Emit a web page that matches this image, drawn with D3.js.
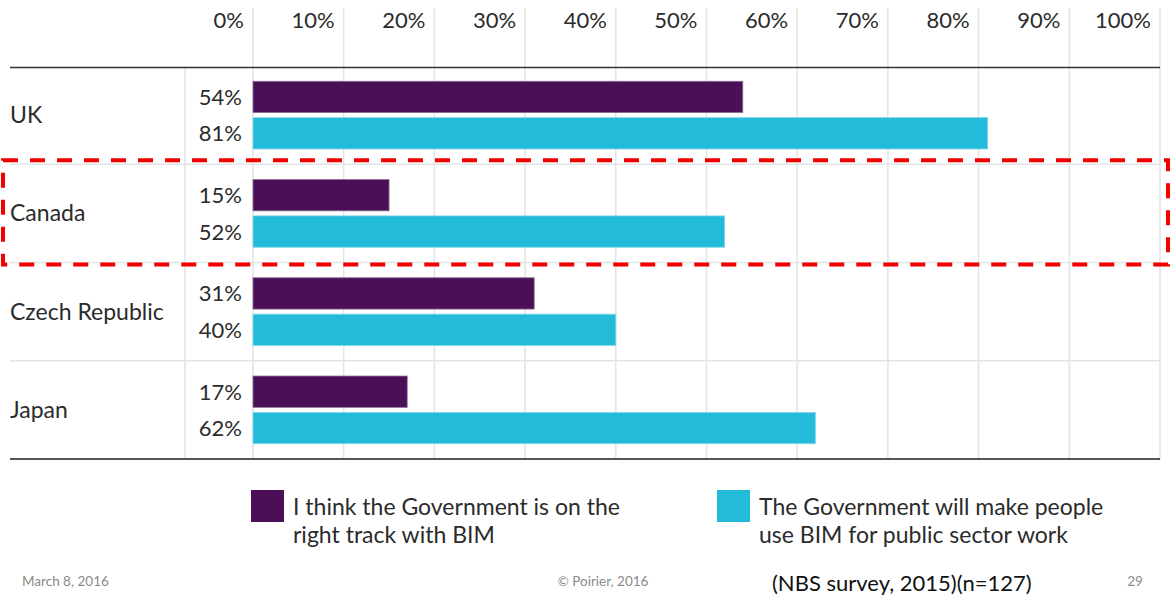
<!DOCTYPE html>
<html>
<head>
<meta charset="utf-8">
<script src="https://cdn.jsdelivr.net/npm/d3@7"></script>
<style>
  body { margin: 0; background: #fff; }
  svg { display: block; font-family: Lato, "Open Sans", sans-serif; }
</style>
</head>
<body>
<div id="chart"></div>
<script>
// data
const countries = ["UK", "Canada", "Czech Republic", "Japan"];
const series = ["onTrack", "willMake"];
const onTrack = [54, 15, 31, 17];
const willMake = [81, 52, 40, 62];
const ticks = [0, 10, 20, 30, 40, 50, 60, 70, 80, 90, 100];
const legendLabels = [
    ["I think the Government is on the", "right track with BIM"],
    ["The Government will make people", "use BIM for public sector work"]
];

const W = 1170, H = 598;
const colors = { onTrack: "#4a0f56", willMake: "#22bbd9" };

const svg = d3.select("#chart")
    .append("svg")
    .attr("width", W)
    .attr("height", H);

const x = d3.scaleLinear().domain([0, 100]).range([253, 1160]);
const y = d3.scaleBand().domain(countries).range([66, 459]);
const ySub = d3.scaleBand().domain(series)
    .range([0, y.bandwidth()])
    .paddingInner(0.14)
    .paddingOuter(0.42);

// vertical gridlines
svg.append("g")
    .selectAll("line")
    .data(ticks)
    .join("line")
    .attr("x1", d => x(d)).attr("x2", d => x(d))
    .attr("y1", 8).attr("y2", 459)
    .attr("stroke", "#e2e5e5")
    .attr("stroke-width", 1.5);

// tick labels on top
svg.append("g")
    .selectAll("text")
    .data(ticks)
    .join("text")
    .attr("x", d => x(d) - 9)
    .attr("y", 28)
    .attr("text-anchor", "end")
    .attr("font-size", 22)
    .attr("fill", "#2b2b2b")
    .text(d => d + "%");

// separator between names and values
svg.append("line")
    .attr("x1", 185).attr("x2", 185)
    .attr("y1", 68).attr("y2", 459)
    .attr("stroke", "#e2e5e5").attr("stroke-width", 1.5);

// row separators
svg.append("g")
    .selectAll("line")
    .data(countries.slice(1))
    .join("line")
    .attr("x1", 10).attr("x2", 1160)
    .attr("y1", d => y(d)).attr("y2", d => y(d))
    .attr("stroke", "#e2e5e5").attr("stroke-width", 1.5);

svg.append("line")
    .attr("x1", 10).attr("x2", 1160)
    .attr("y1", 67.5).attr("y2", 67.5)
    .attr("stroke", "#333").attr("stroke-width", 1.5);

svg.append("line")
    .attr("x1", 10).attr("x2", 1160)
    .attr("y1", 459).attr("y2", 459)
    .attr("stroke", "#555").attr("stroke-width", 2);

// bars
const rows = svg.append("g")
    .selectAll("g")
    .data(countries)
    .join("g")
    .attr("transform", d => `translate(0,${y(d)})`);

rows.append("text")
    .attr("x", 10)
    .attr("y", y.bandwidth() / 2 + 8)
    .attr("font-size", 23)
    .attr("fill", "#2b2b2b")
    .text(d => d);

const barData = (c, i) => [
    { key: "onTrack", value: onTrack[i] },
    { key: "willMake", value: willMake[i] }
];

rows.selectAll("rect")
    .data(barData)
    .join("rect")
    .attr("x", x(0))
    .attr("y", d => ySub(d.key))
    .attr("width", d => x(d.value) - x(0))
    .attr("height", ySub.bandwidth())
    .attr("fill", d => colors[d.key])
    .attr("stroke", d => d.key === "onTrack" ? "#8a6a92" : "#7fd6e8")
    .attr("stroke-width", 0.8);

rows.selectAll("text.val")
    .data(barData)
    .join("text")
    .attr("class", "val")
    .attr("x", 242)
    .attr("y", d => ySub(d.key) + ySub.bandwidth() / 2 + 8)
    .attr("text-anchor", "end")
    .attr("font-size", 22)
    .attr("fill", "#2b2b2b")
    .text(d => d.value + "%");

// red dashed highlight around Canada
svg.append("rect")
    .attr("x", 3)
    .attr("y", y("Canada") - 4)
    .attr("width", 1165)
    .attr("height", y.bandwidth() + 6)
    .attr("fill", "none")
    .attr("stroke", "#f20000")
    .attr("stroke-width", 4)
    .attr("stroke-dasharray", "15,12");

// legend
const legend = svg.append("g")
    .selectAll("g")
    .data(series)
    .join("g")
    .attr("transform", (d, i) => `translate(${[251, 717][i]},490)`);

legend.append("rect")
    .attr("width", 33).attr("height", 32)
    .attr("fill", d => colors[d]);

legend.append("text")
    .attr("font-size", 23)
    .attr("fill", "#2b2b2b")
    .selectAll("tspan")
    .data((d, i) => legendLabels[i])
    .join("tspan")
    .attr("x", 42)
    .attr("y", (d, j) => 25 + j * 28)
    .text(d => d);

// footer
svg.append("text").attr("x", 22).attr("y", 586)
    .attr("font-size", 13.5).attr("fill", "#8a8a8a").text("March 8, 2016");
svg.append("text").attr("x", 603).attr("y", 586).attr("text-anchor", "middle")
    .attr("font-size", 13.5).attr("fill", "#8a8a8a").text("© Poirier, 2016");
svg.append("text").attr("x", 772).attr("y", 591)
    .attr("font-size", 22).attr("fill", "#111").text("(NBS survey, 2015)(n=127)");
svg.append("text").attr("x", 1135).attr("y", 586).attr("text-anchor", "middle")
    .attr("font-size", 13.5).attr("fill", "#8a8a8a").text("29");
</script>
</body>
</html>
